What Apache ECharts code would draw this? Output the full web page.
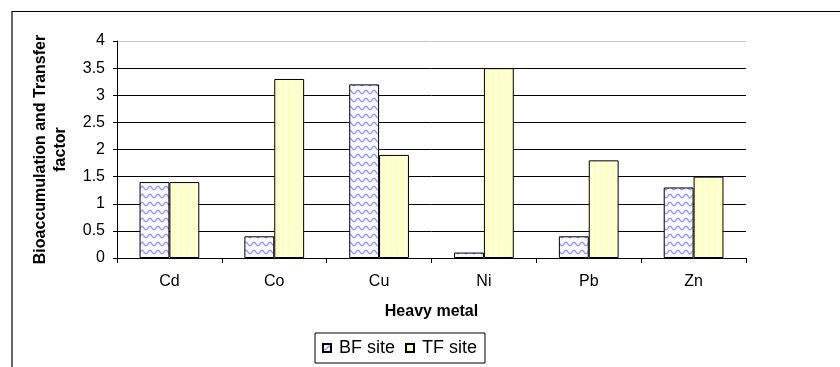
<!DOCTYPE html>
<html>
<head>
<meta charset="utf-8">
<script src="https://cdn.jsdelivr.net/npm/echarts@6/dist/echarts.min.js"></script>
<style>
  html, body { margin: 0; padding: 0; background: #fff; }
  #chart { width: 840px; height: 367px; }
</style>
</head>
<body>
<div id="chart"></div>
<script>
// Heavy metal categories and the two site factors
const metals = ['Cd', 'Co', 'Cu', 'Ni', 'Pb', 'Zn'];
const bfSite = [1.4, 0.4, 3.2, 0.1, 0.4, 1.3];
const tfSite = [1.4, 3.3, 1.9, 3.5, 1.8, 1.5];
const seriesNames = ['BF site', 'TF site'];

const FONT = '"Liberation Sans", Arial, sans-serif';

// Wavy blue fill for the BF bars
function wavePattern() {
  const c = document.createElement('canvas');
  c.width = 8; c.height = 8;
  const g = c.getContext('2d');
  g.fillStyle = '#f8f8ff';
  g.fillRect(0, 0, 8, 8);
  g.strokeStyle = '#9494ff';
  g.lineWidth = 1.3;
  g.beginPath();
  for (let x = -1; x <= 9; x += 0.5) {
    const y = 4 + 1.7 * Math.sin((x / 8) * Math.PI * 2);
    if (x === -1) g.moveTo(x, y); else g.lineTo(x, y);
  }
  g.stroke();
  return c;
}

// Pale yellow vertical stripes for the TF bars
function stripePattern() {
  const c = document.createElement('canvas');
  c.width = 6; c.height = 4;
  const g = c.getContext('2d');
  g.fillStyle = '#ffffc0';
  g.fillRect(0, 0, 6, 4);
  g.fillStyle = '#ffffec';
  g.fillRect(3, 0, 2, 4);
  return c;
}

const chart = echarts.init(document.getElementById('chart'), null, { renderer: 'canvas' });

// Top gridline is drawn lighter than the rest
const gridColors = ['#000', '#000', '#000', '#000', '#000', '#000', '#000', '#000', '#c8c8c8'];

chart.setOption({
  animation: false,
  backgroundColor: '#ffffff',
  textStyle: { fontFamily: FONT, color: '#000' },
  graphic: [{
    type: 'rect',
    shape: { x: 12, y: 11.5, width: 900, height: 400 },
    style: { fill: 'none', stroke: '#000', lineWidth: 1.2 },
    silent: true,
    z: -1
  }],
  grid: { left: 117, right: 94, top: 41, bottom: 109, containLabel: false },
  legend: {
    data: seriesNames,
    left: 315,
    top: 333,
    orient: 'horizontal',
    itemWidth: 8,
    itemHeight: 8,
    itemGap: 10,
    icon: 'rect',
    padding: [6, 8, 6, 7],
    borderColor: '#000',
    borderWidth: 1,
    textStyle: { fontFamily: FONT, fontSize: 18, color: '#000', padding: [0, 0, 0, 3] }
  },
  xAxis: {
    type: 'category',
    data: metals,
    name: 'Heavy metal',
    nameLocation: 'middle',
    nameGap: 46,
    nameTextStyle: { fontFamily: FONT, fontSize: 16, fontWeight: 'bold', color: '#000' },
    axisLine: { lineStyle: { color: '#000', width: 1 } },
    axisTick: { show: true, alignWithLabel: false, length: 5, lineStyle: { color: '#000' } },
    axisLabel: { fontFamily: FONT, fontSize: 16, color: '#000', margin: 16 },
    splitLine: { show: false }
  },
  yAxis: {
    type: 'value',
    min: 0,
    max: 4,
    interval: 0.5,
    name: 'Bioaccumulation and Transfer\nfactor',
    nameLocation: 'middle',
    nameRotate: 90,
    nameGap: 46,
    nameTextStyle: { fontFamily: FONT, fontSize: 16, fontWeight: 'bold', color: '#000', lineHeight: 20, align: 'center' },
    axisLine: { show: true, lineStyle: { color: '#000', width: 1 } },
    axisTick: { show: true, length: 4, lineStyle: { color: '#000' } },
    axisLabel: { fontFamily: FONT, fontSize: 16, color: '#000', margin: 12 },
    splitLine: { show: true, lineStyle: { color: gridColors, width: 1 } }
  },
  series: [
    {
      name: seriesNames[0],
      type: 'bar',
      data: bfSite,
      barGap: '0%',
      barCategoryGap: '43%',
      itemStyle: {
        color: { image: wavePattern(), repeat: 'repeat' },
        borderColor: '#000',
        borderWidth: 1
      }
    },
    {
      name: seriesNames[1],
      type: 'bar',
      data: tfSite,
      barGap: '0%',
      barCategoryGap: '43%',
      itemStyle: {
        color: { image: stripePattern(), repeat: 'repeat' },
        borderColor: '#000',
        borderWidth: 1
      }
    }
  ]
});
</script>
</body>
</html>
